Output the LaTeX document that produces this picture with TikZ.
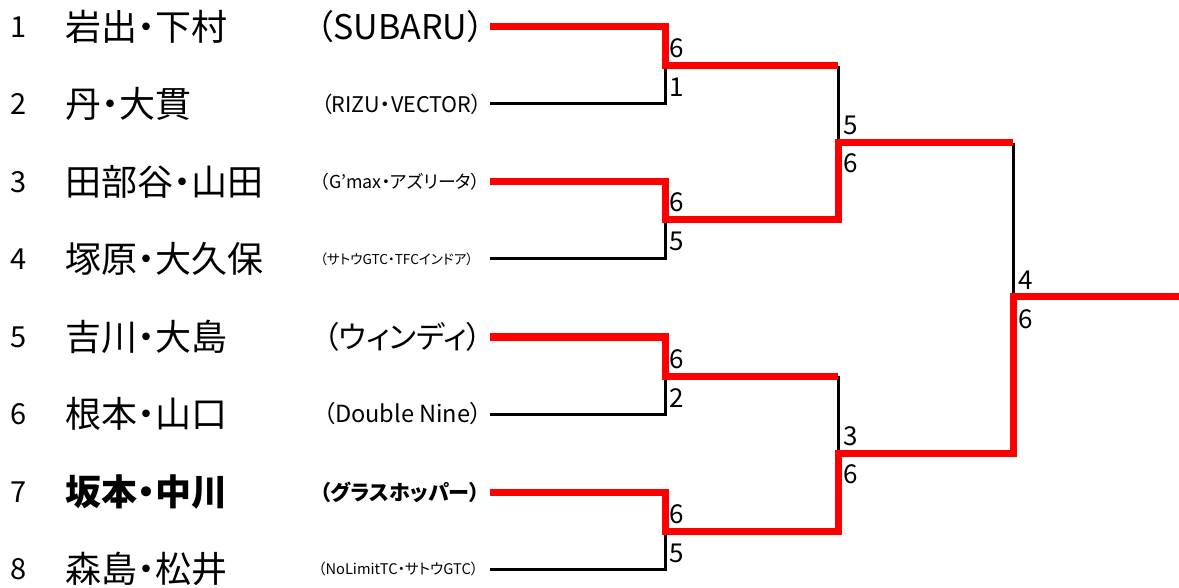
\documentclass[tikz,border=0pt]{standalone}
\usepackage{fontspec}
\usepackage{graphicx}
\setmainfont{Noto Sans CJK JP}
\newfontfamily\jpp[RawFeature=+palt]{Noto Sans CJK JP}
\newcommand{\teamlbl}[2]{\resizebox{#1pt}{!}{\jpp #2}}
\tikzset{
  seed/.style={anchor=west, inner sep=0pt, font=\fontsize{29}{32}\selectfont},
  pname/.style={anchor=west, inner sep=0pt, font=\jpp\fontsize{36}{39}\selectfont},
  team/.style={anchor=west, inner sep=0pt},
  score/.style={anchor=base west, inner sep=0pt, font=\fontsize{26}{29}\selectfont},
  win/.style={draw=red, line width=7pt, line join=miter},
  lose/.style={draw=black, line width=3pt},
}
\begin{document}
\begin{tikzpicture}[x=1pt,y=-1pt]
\useasboundingbox (0,0) rectangle (1179,588);
% entry points
\coordinate (t1) at (490,27);
\coordinate (t2) at (490,104);
\coordinate (t3) at (490,182);
\coordinate (t4) at (490,259);
\coordinate (t5) at (490,337);
\coordinate (t6) at (490,414);
\coordinate (t7) at (490,492);
\coordinate (t8) at (490,569);
% merge points
\coordinate (m1) at (665,66);
\coordinate (m2) at (665,220);
\coordinate (m3) at (665,376);
\coordinate (m4) at (665,531);
\coordinate (n1) at (838,143);
\coordinate (n2) at (838,453);
\coordinate (f) at (1013,297);
\coordinate (e) at (1179,297);

% seeds
\node[seed] (s1) at (10,27) {1};
\node[seed] (s2) at (10,104) {2};
\node[seed] (s3) at (10,182) {3};
\node[seed] (s4) at (10,259) {4};
\node[seed] (s5) at (10,337) {5};
\node[seed] (s6) at (10,414) {6};
\node[seed] (s7) at (10,492) {7};
\node[seed] (s8) at (10,569) {8};
% names
\node[pname] (p1) at (65,27) {岩出・下村};
\node[pname] (p2) at (65,104) {丹・大貫};
\node[pname] (p3) at (65,182) {田部谷・山田};
\node[pname] (p4) at (65,259) {塚原・大久保};
\node[pname] (p5) at (65,337) {吉川・大島};
\node[pname] (p6) at (65,414) {根本・山口};
\node[pname,font=\jpp\fontsize{36}{39}\selectfont\bfseries] (p7) at (65,492) {坂本・中川};
\node[pname] (p8) at (65,569) {森島・松井};
% teams
\node[team] (c1) at (316,27) {\teamlbl{168}{（SUBARU）}};
\node[team] (c2) at (321,104) {\teamlbl{161}{（RIZU・VECTOR）}};
\node[team] (c3) at (320,182) {\teamlbl{160}{（G’max・アズリータ）}};
\node[team] (c4) at (320,259) {\teamlbl{153}{（サトウGTC・TFCインドア）}};
\node[team] (c5) at (323,337) {\teamlbl{159}{（ウィンディ）}};
\node[team] (c6) at (323,414) {\teamlbl{159}{（Double Nine）}};
\node[team] (c7) at (320,492) {\teamlbl{160}{\bfseries（グラスホッパー）}};
\node[team] (c8) at (318,569) {\teamlbl{160}{（NoLimitTC・サトウGTC）}};

% losing lines
\draw[lose] (t2) -| (m1);
\draw[lose] (t4) -| (m2);
\draw[lose] (t6) -| (m3);
\draw[lose] (t8) -| (m4);
\draw[lose] (m1 -| n1) -- (n1);
\draw[lose] (m3 -| n2) -- (n2);
\draw[lose] (n1 -| f) -- (f);
% winning lines
\draw[win] (t1) -| (m1) -- (m1 -| n1);
\draw[win] (t3) -| (m2) -| (n1) -- (n1 -| f);
\draw[win] (t5) -| (m3) -- (m3 -| n2);
\draw[win] (t7) -| (m4) -| (n2) -| (f) -- (e);

% scores round 1
\node[score] (a1) at (669,58) {6};
\node[score] (b1) at (669,97) {1};
\node[score] (a2) at (669,212) {6};
\node[score] (b2) at (669,251) {5};
\node[score] (a3) at (669,368) {6};
\node[score] (b3) at (669,407) {2};
\node[score] (a4) at (669,523) {6};
\node[score] (b4) at (669,562) {5};
% round 2
\node[score] (a5) at (843,135) {5};
\node[score] (b5) at (843,173) {6};
\node[score] (a6) at (843,445) {3};
\node[score] (b6) at (843,483) {6};
% final
\node[score] (a7) at (1018,290) {4};
\node[score] (b7) at (1018,328) {6};
\end{tikzpicture}
\end{document}
